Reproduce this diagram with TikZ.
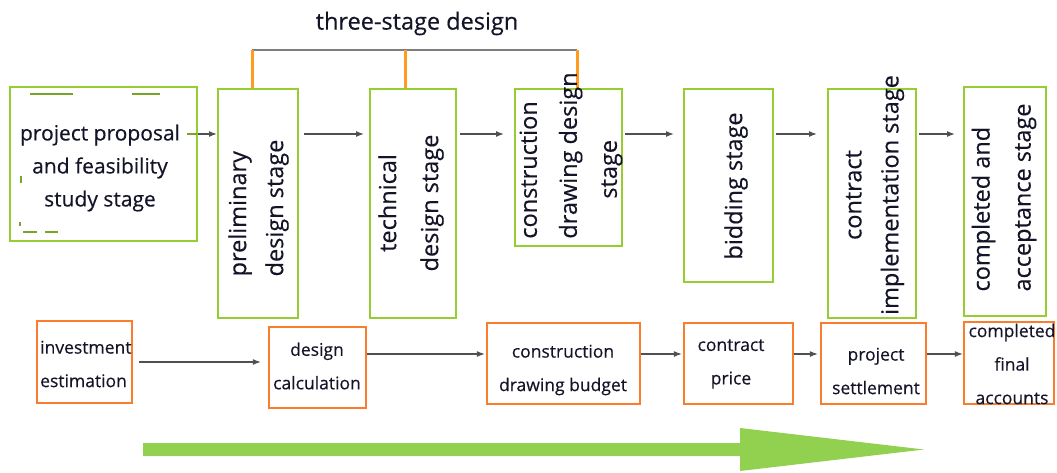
\documentclass[tikz,border=0pt]{standalone}
\usepackage{fontspec}
\setmainfont{Open Sans}[FakeBold=0.35]
\usetikzlibrary{arrows.meta}

\definecolor{stagegreen}{RGB}{150,205,50}
\definecolor{progressgreen}{RGB}{146,208,80}
\definecolor{costorange}{RGB}{250,125,45}
\definecolor{linkorange}{RGB}{255,155,30}
\definecolor{linkgray}{RGB}{125,125,125}
\definecolor{arrowgray}{RGB}{80,80,80}
\definecolor{txt}{RGB}{20,20,40}

\begin{document}
\begin{tikzpicture}[x=1pt,y=-1pt,
  stagebox/.style={draw=stagegreen, line width=2pt, inner sep=0pt},
  costbox/.style={draw=costorange, line width=2.2pt, inner sep=0pt},
  flow/.style={draw=arrowgray, line width=1.3pt, -{Latex[length=8pt,width=6pt]}},
  vlabel/.style={rotate=90, text=txt, inner sep=0pt,
    font=\fontsize{23.5}{#1}\selectfont},
  toplabel/.style={text=txt, inner sep=0pt, align=center,
    font=\fontsize{21}{33}\selectfont},
  costlabel/.style={text=txt, inner sep=0pt, align=center,
    font=\fontsize{17.5}{33.5}\selectfont},
  artefact/.style={draw=stagegreen!80!black, line width=2pt},
]
\useasboundingbox (0,0) rectangle (1057,472);

% ---- stage boxes ----
\node[stagebox, minimum width=187pt, minimum height=154pt] (A) at (103.5,164) {};
\node[stagebox, minimum width=80pt,  minimum height=229pt] (B) at (258,203.5) {};
\node[stagebox, minimum width=86pt,  minimum height=229pt] (C) at (413,203.5) {};
\node[stagebox, minimum width=107pt, minimum height=157pt] (D) at (568.5,167.5) {};
\node[stagebox, minimum width=89pt,  minimum height=193pt] (E) at (728.5,185.5) {};
\node[stagebox, minimum width=88pt,  minimum height=229pt] (F) at (872,203.5) {};
\node[stagebox, minimum width=82pt,  minimum height=229pt] (G) at (1005,201.5) {};

% ---- three-stage bracket ----
\node[text=txt, inner sep=0pt, font=\fontsize{23.5}{28}\selectfont] (title) at (417,23.5) {three-stage design};
\coordinate (t1) at (252,50);
\coordinate (t2) at (405,50);
\coordinate (t3) at (577,50);
\draw[linkgray, line width=2pt] (t1) -- (t3);
\draw[linkorange, line width=3pt] (t1) -- (t1 |- B.north);
\draw[linkorange, line width=3pt] (t2) -- (t2 |- C.north);
\draw[linkorange, line width=3pt] (t3) -- (t3 |- D.north);

% ---- stage labels ----
\node[toplabel] (Atxt) at (100,168) {project proposal\\and feasibility\\study stage};
\node[vlabel=37, align=left]   (Btxt) at (258.5,208) {preliminary\\design stage};
\node[vlabel=42, align=center] (Ctxt) at (411,203) {technical\\design stage};
\node[vlabel=40, align=left]   (Dtxt) at (571,155.5) {construction\\drawing design\\\hspace*{40pt}stage};
\node[vlabel=30]               (Etxt) at (736,186) {bidding stage};
\node[vlabel=37, align=center] (Ftxt) at (875,195) {contract\\implementation stage};
\node[vlabel=41, align=left]   (Gtxt) at (1004,197.5) {completed and\\acceptance stage};

% ---- leftover dashed marks in the first box ----
\draw[artefact] (30,94) -- (73,94);
\draw[artefact] (132,94) -- (160,94);
\draw[artefact] (23,232) -- (37,232);
\draw[artefact] (45,232) -- (58,232);
\draw[artefact] (21,176) -- (21,183);
\draw[artefact] (20,222) -- (20,226);
\draw[artefact] (187,134) -- (197,134);

% ---- stage flow ----
\coordinate (r1) at (0,134);
\draw[flow] (A.east |- r1) -- (B.west |- r1);
\draw[flow, shorten <=5pt, shorten >=5pt] (B.east |- r1) -- (C.west |- r1);
\draw[flow, shorten <=3pt, shorten >=10pt] (C.east |- r1) -- (D.west |- r1);
\draw[flow, shorten <=2pt, shorten >=9pt] (D.east |- r1) -- (E.west |- r1);
\draw[flow, shorten <=2pt, shorten >=10pt] (E.east |- r1) -- (F.west |- r1);
\draw[flow, shorten <=2pt, shorten >=8pt] (F.east |- r1) -- (G.west |- r1);

% ---- cost boxes ----
\node[costbox, minimum width=95pt,  minimum height=82pt] (a) at (84.5,362) {};
\node[costbox, minimum width=97pt,  minimum height=81pt] (b) at (317.5,367.5) {};
\node[costbox, minimum width=153pt, minimum height=81pt] (c) at (563.5,363.5) {};
\node[costbox, minimum width=109pt, minimum height=81pt] (d) at (738.5,363.5) {};
\node[costbox, minimum width=105pt, minimum height=81pt] (e) at (873.5,363.5) {};
\node[costbox, minimum width=90pt,  minimum height=82pt] (f) at (1009,363) {};

% ---- cost labels ----
\node[costlabel, align=left, anchor=west] (atxt) at (40,364) {investment\\estimation};
\node[costlabel] (btxt) at (317,366) {design\\calculation};
\node[costlabel] (ctxt) at (563,370) {construction\\drawing budget};
\node[costlabel] (dtxt) at (731,364) {contract\\price};
\node[costlabel] (etxt) at (876,371) {project\\settlement};
\node[costlabel] (ftxt) at (1012,364) {completed\\final\\accounts};

% ---- cost flow ----
\coordinate (r2) at (0,362);
\coordinate (r3) at (0,354);
\draw[flow, shorten <=6pt, shorten >=7pt] (a.east |- r2) -- (b.west |- r2);
\draw[flow, shorten >=1pt] (b.east |- r3) -- (c.west |- r3);
\draw[flow, shorten >=1pt] (c.east |- r3) -- (d.west |- r3);
\draw[flow, shorten >=2pt] (d.east |- r3) -- (e.west |- r3);
\draw[flow] (e.east |- r3) -- (f.west |- r3);

% ---- overall progress arrow ----
\fill[progressgreen] (143,443) -- (740,443) -- (740,428) -- (924,449.5)
  -- (740,471) -- (740,456) -- (143,456) -- cycle;
\end{tikzpicture}
\end{document}
